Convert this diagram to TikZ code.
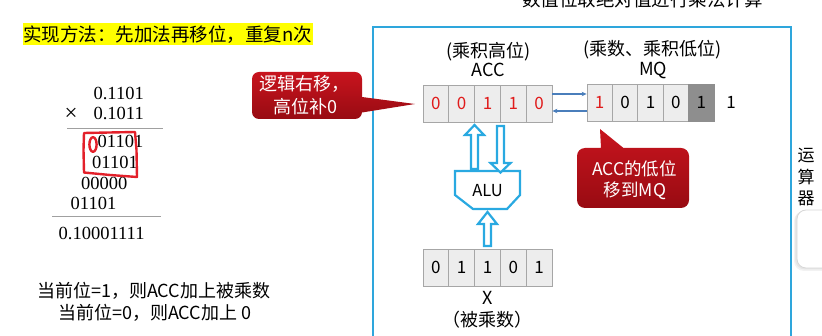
\documentclass[tikz,border=0pt]{standalone}
\usepackage{fontspec}
\setmainfont{Noto Sans CJK SC}
\newfontfamily\tnr{Liberation Serif}
\usetikzlibrary{arrows.meta}
\definecolor{frameblue}{HTML}{2EA6DC}
\definecolor{hollowblue}{HTML}{29A9E1}
\definecolor{linkblue}{HTML}{4A7EBB}
\definecolor{cellfill}{HTML}{EDEDED}
\definecolor{cellline}{HTML}{A6A6A6}
\definecolor{darkcell}{HTML}{8E8E8E}
\definecolor{digred}{HTML}{E01B1B}
\definecolor{calltop}{HTML}{C8141E}
\definecolor{callbot}{HTML}{980B12}
\definecolor{penred}{HTML}{E3202A}
\definecolor{hilite}{HTML}{FFFF00}
\definecolor{rulegray}{HTML}{A0A0A0}
\begin{document}
\begin{tikzpicture}[x=1pt,y=-1pt,
  cell/.style={draw=cellline, fill=cellfill, line width=0.8pt, minimum width=25.8pt,
    minimum height=37pt, inner sep=0pt, font=\fontsize{17}{20}\selectfont},
  mqcell/.style={cell, minimum width=25.4pt},
  serif/.style={inner sep=0pt, font=\tnr\fontsize{18.5}{20}\selectfont},
  sans/.style={inner sep=0pt, font=\fontsize{18}{20}\selectfont},
  calltext/.style={inner sep=0pt, text=white, font=\fontsize{18}{20}\selectfont},
  rule/.style={draw=rulegray, line width=1pt},
  hollow/.style={draw=hollowblue, line width=2.2pt, fill=white, line join=miter},
  link/.style={draw=linkblue, line width=1.1pt, -{Stealth[length=5pt,width=4.5pt]}},
  pen/.style={draw=penred, line width=2.4pt, line join=round, line cap=round},
  callout/.style={top color=calltop, bottom color=callbot}
]
\useasboundingbox (0,0) rectangle (822,336);

% clipped heading at the very top (cut off as in the reference)
\node[sans, anchor=base west, font=\fontsize{18.5}{20}\selectfont] (heading) at (522,7) {数值位取绝对值进行乘法计算};

% title with highlight
\fill[hilite] (23,23) rectangle (313,45);
\node[sans, anchor=base west, font=\fontsize{18.5}{20}\selectfont] (title) at (23,41.5) {实现方法：先加法再移位，重复n次};

% hand multiplication
\node[serif, anchor=base east] (m1) at (144,100) {0.1101};
\node[serif, anchor=base east] (m2) at (144,120) {0.1011};
\node[serif, anchor=base west, font=\tnr\fontsize{23}{24}\selectfont] (mx) at (64.5,121) {×};
\draw[rule] (67,129) -- (163,129);
\node[serif, anchor=base east] (p1) at (143.5,148) {01101};
\node[serif, anchor=base east] (p2) at (138,169) {01101};
\node[serif, anchor=base east] (p3) at (127.5,190) {00000};
\node[serif, anchor=base east] (p4) at (116.5,210) {01101};
\draw[rule] (52,217) -- (161,217);
\node[serif, anchor=base west] (res) at (58.5,240) {0.10001111};

% red hand annotations
\draw[pen] (93,144.5) ellipse [x radius=3.6, y radius=7.3];
\draw[pen] (84,133) -- (135,132) -- (136.5,150) -- (137,177) -- (110,175) -- (84,172.5) -- (83.5,150) -- cycle;

% notes
\node[sans, anchor=base west] (note1) at (37,298) {当前位=1，则ACC加上被乘数};
\node[sans, anchor=base west] (note2) at (58,320) {当前位=0，则ACC加上 0};

% frame
\draw[frameblue, line width=2.4pt] (373,27) rectangle (791,350);

% register labels
\node[sans, anchor=base] (acclab1) at (488.5,57.5) {(乘积高位)};
\node[sans, anchor=base] (acclab2) at (488,77) {ACC};
\node[sans, anchor=base] (mqlab1) at (652.5,56) {(乘数、乘积低位)};
\node[sans, anchor=base] (mqlab2) at (653,76) {MQ};

% ACC cells
\foreach \i/\d in {1/0,2/0,3/1,4/1,5/0}
  \node[cell, text=digred] (acc\i) at ({435.9+25.8*(\i-1)},103.5) {\d};
% MQ cells
\node[mqcell, text=digred] (mq1) at (599.7,102.5) {1};
\node[mqcell] (mq2) at (625.1,102.5) {0};
\node[mqcell] (mq3) at (650.5,102.5) {1};
\node[mqcell] (mq4) at (675.9,102.5) {0};
\node[mqcell, fill=darkcell, draw=darkcell] (mq5) at (701.3,102.5) {1};
\node[inner sep=0pt, font=\fontsize{17}{20}\selectfont] (mqout) at (731,102.5) {1};

% X cells
\foreach \i/\d in {1/0,2/1,3/1,4/0,5/1}
  \node[cell] (x\i) at ({435.9+25.8*(\i-1)},267.5) {\d};
\node[sans, anchor=base] (xlab1) at (487.5,305) {X};
\node[sans, anchor=base] (xlab2) at (487.5,327) {（被乘数）};

% links ACC <-> MQ
\draw[link] ([yshift=9.5pt]acc5.east) -- ([yshift=8.5pt]mq1.west);
\draw[link] ([yshift=-8.5pt]mq1.west) -- ([yshift=-7.5pt]acc5.east);

% ALU
\draw[hollow] (455,171) -- (520,171) -- (520,195) -- (507,209) -- (473,209) -- (455,195) -- cycle;
\node[inner sep=0pt, font=\fontsize{16.5}{20}\selectfont] (alu) at (487.5,190.5) {ALU};

% hollow arrows
\draw[hollow] (471,169) -- (471,135) -- (465,135) -- (474.5,125) -- (484,135) -- (478,135) -- (478,169) -- cycle;
\draw[hollow] (497,126) -- (504,126) -- (504,163) -- (510.5,163) -- (500.5,172.5) -- (490.5,163) -- (497,163) -- cycle;
\draw[hollow] (484,246) -- (484,224) -- (478,224) -- (487.5,212) -- (497,224) -- (491,224) -- (491,246) -- cycle;

% callout 1
\shade[callout] [rounded corners=7pt] (252,72) rectangle (362,119) [sharp corners] (362,97) -- (415,104) -- (362,112.5) -- cycle;
\node[calltext, anchor=base] (c1a) at (304,91) {逻辑右移，};
\node[calltext, anchor=base] (c1b) at (305,114) {高位补0};

% callout 2
\shade[callout] [rounded corners=8pt] (577,148) rectangle (689,208) [sharp corners] (601,148) -- (600,129) -- (623.5,148) -- cycle;
\node[calltext, anchor=base, font=\fontsize{17.5}{20}\selectfont] (c2a) at (634.5,176) {ACC的低位};
\node[calltext, anchor=base, font=\fontsize{17.5}{20}\selectfont] (c2b) at (635,197) {移到MQ};

% right side
\node[inner sep=0pt, anchor=base, font=\fontsize{17}{20}\selectfont] (ys1) at (806,161.5) {运};
\node[inner sep=0pt, anchor=base, font=\fontsize{17}{20}\selectfont] (ys2) at (806,183.5) {算};
\node[inner sep=0pt, anchor=base, font=\fontsize{17}{20}\selectfont] (ys3) at (806,204.5) {器};
\fill[black, opacity=0.05, rounded corners=10pt] (794,211) rectangle (840,271);
\fill[black, opacity=0.05, rounded corners=10pt] (795,210.5) rectangle (840,269.5);
\draw[draw={rgb,255:red,215;green,215;blue,215}, fill=white, line width=0.8pt, rounded corners=9pt] (797,210) rectangle (840,268);
\end{tikzpicture}
\end{document}
